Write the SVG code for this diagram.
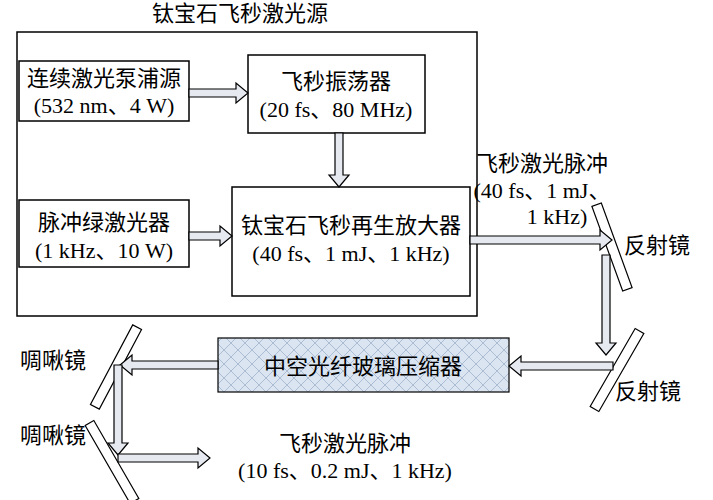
<svg xmlns="http://www.w3.org/2000/svg" width="713" height="500" viewBox="0 0 713 500">
<style>
text{font-family:"Liberation Serif","Noto Sans CJK SC",serif;font-size:22px;fill:#000;text-anchor:middle}
.box{fill:#fff;stroke:#000;stroke-width:1.5}
.arr{fill:#e6e9f0;stroke:#000;stroke-width:1.2}
.mir{fill:#fff;stroke:#000;stroke-width:1.2}
</style>
<defs>
<pattern id="hatch" width="14" height="14" patternUnits="userSpaceOnUse">
<rect width="14" height="14" fill="#dbe5f1"/>
<path d="M0 0L14 14M14 0L0 14" stroke="#9fb3cc" stroke-width="0.8"/>
</pattern>
</defs>
<rect width="713" height="500" fill="#fff"/>
<g id="source"><rect class="box" x="17" y="32" width="460" height="284"/><text x="240" y="21">钛宝石飞秒激光源</text></g>
<g id="pump"><rect class="box" x="19" y="61" width="170" height="60"/><text x="104" y="86">连续激光泵浦源</text><text x="104" y="113">(532 nm、4 W)</text></g>
<g id="osc"><rect class="box" x="248" y="55" width="177" height="78"/><text x="336" y="89">飞秒振荡器</text><text x="336" y="117">(20 fs、80 MHz)</text></g>
<g id="green"><rect class="box" x="19" y="200" width="170" height="67"/><text x="104" y="230">脉冲绿激光器</text><text x="104" y="258">(1 kHz、10 W)</text></g>
<g id="amp"><rect class="box" x="232" y="187" width="238" height="109"/><text x="351" y="233">钛宝石飞秒再生放大器</text><text x="351" y="261">(40 fs、1 mJ、1 kHz)</text></g>
<g id="comp"><rect x="218" y="338" width="291" height="54" fill="url(#hatch)" stroke="#000" stroke-width="1.2"/><text x="363" y="374">中空光纤玻璃压缩器</text></g>
<g id="m1"><rect class="mir" x="-5" y="-45" width="10" height="90" transform="translate(612,247) rotate(-20)"/><text x="657" y="253">反射镜</text></g>
<g id="m2"><rect class="mir" x="-5" y="-45" width="10" height="90" transform="translate(617,370) rotate(30)"/><text x="648" y="399">反射镜</text></g>
<g id="c1"><rect class="mir" x="-5" y="-45" width="10" height="90" transform="translate(116,367) rotate(28)"/><text x="53" y="368">啁啾镜</text></g>
<g id="c2"><rect class="mir" x="-5" y="-45" width="10" height="90" transform="translate(112,462) rotate(-30)"/><text x="53" y="443">啁啾镜</text></g>
<g id="connectors">
<polygon class="arr" points="189,89 236,89 236,83 248,93 236,103 236,97 189,97"/>
<polygon class="arr" points="335,133 335,175 329,175 339,187 349,175 343,175 343,133"/>
<polygon class="arr" points="189,232 220,232 220,226 232,236 220,246 220,240 189,240"/>
<polygon class="arr" points="470,236 600,236 600,230 612,240 600,250 600,244 470,244"/>
<polygon class="arr" points="602,255 602,343 596,343 606,355 616,343 610,343 610,255"/>
<polygon class="arr" points="613,362 521,362 521,356 509,366 521,376 521,370 613,370"/>
<polygon class="arr" points="218,361 132,361 132,355 120,365 132,375 132,369 218,369"/>
<polygon class="arr" points="114,365 114,443 108,443 118,455 128,443 122,443 122,365"/>
<polygon class="arr" points="118,454 198,454 198,448 210,458 198,468 198,462 118,462"/>
</g>
<g id="labels">
<text x="542" y="171">飞秒激光脉冲</text><text x="542" y="198">(40 fs、1 mJ、</text><text x="557" y="224">1 kHz)</text>
<text x="345" y="451">飞秒激光脉冲</text><text x="345" y="478">(10 fs、0.2 mJ、1 kHz)</text>
</g>
</svg>
